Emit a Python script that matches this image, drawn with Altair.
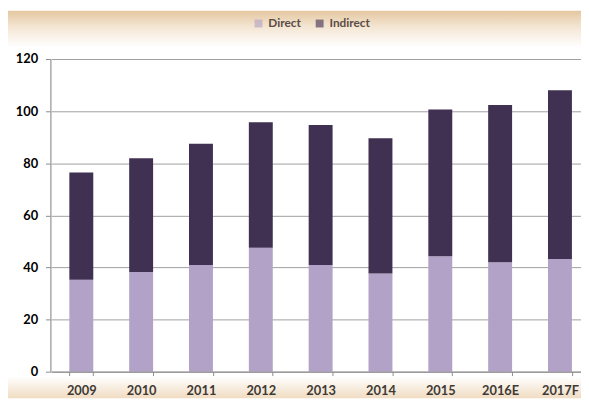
import altair as alt
import pandas as pd

years = ["2009", "2010", "2011", "2012", "2013", "2014", "2015", "2016E", "2017F"]
direct = [35.3, 38.3, 40.9, 47.6, 40.9, 37.7, 44.3, 42.0, 43.2]
indirect = [41.1, 43.6, 46.6, 48.1, 53.8, 51.9, 56.3, 60.4, 64.8]
series = ["Direct", "Indirect"]
colors = ["#b3a2c7", "#403152"]
y_ticks = [0, 20, 40, 60, 80, 100, 120]

rows = []
for i, yr in enumerate(years):
    rows.append({"year": yr, "series": "Direct", "value": direct[i], "ord": 0})
    rows.append({"year": yr, "series": "Indirect", "value": indirect[i], "ord": 1})
df = pd.DataFrame(rows)

W, H = 538, 317
FONT = "Lato"

top_bg = alt.Chart(alt.Data(values=[{}])).mark_rect(
    color=alt.Gradient(
        gradient="linear", x1=0, x2=0, y1=0, y2=1,
        stops=[alt.GradientStop(offset=0, color="#e4c7a0"),
               alt.GradientStop(offset=0.45, color="#f4e6d4"),
               alt.GradientStop(offset=1, color="#ffffff")],
    )
).encode(x=alt.value(-43), x2=alt.value(W), y=alt.value(-49), y2=alt.value(-12))

bot_bg = alt.Chart(alt.Data(values=[{}])).mark_rect(
    color=alt.Gradient(
        gradient="linear", x1=0, x2=0, y1=0, y2=1,
        stops=[alt.GradientStop(offset=0, color="#ffffff"),
               alt.GradientStop(offset=1, color="#f0dcc2")],
    )
).encode(x=alt.value(-43), x2=alt.value(W), y=alt.value(322), y2=alt.value(344))

bars = alt.Chart(df).mark_bar().encode(
    x=alt.X("year:N", sort=years, title=None,
            scale=alt.Scale(range=[1, 547], paddingInner=0.6, paddingOuter=0.3),
            axis=alt.Axis(labelAngle=0, tickBand="extent", tickSize=4, tickColor="#8c8c8c",
                          domainColor="#8c8c8c", labelFont=FONT, labelFontSize=13,
                          labelFontWeight="bold", labelColor="#403a35", labelPadding=9,
                          zindex=1)),
    y=alt.Y("value:Q", stack="zero", title=None,
            scale=alt.Scale(domain=[0, 120], nice=False),
            axis=alt.Axis(values=y_ticks, tickSize=5, tickColor="#8c8c8c", domainColor="#8c8c8c",
                          gridColor="#a0a0a0", grid=True, labelFont=FONT, labelFontSize=13,
                          labelFontWeight="bold", labelColor="#000000", labelPadding=8)),
    color=alt.Color("series:N", scale=alt.Scale(domain=series, range=colors),
                    legend=alt.Legend(orient="none", legendX=205, legendY=-42, direction="horizontal",
                                      title=None, symbolType="square", symbolSize=64,
                                      symbolOpacity=0.62, symbolStrokeWidth=0,
                                      labelFont=FONT, labelFontSize=12, labelFontWeight="bold",
                                      labelColor="#5a4c46", labelOffset=4, columnPadding=12,
                                      padding=0)),
    order=alt.Order("ord:Q"),
)

chart = alt.layer(top_bg, bot_bg, bars).properties(
    width=W, height=H,
    autosize=alt.AutoSizeParams(type="none"),
    padding={"left": 43, "top": 49, "right": 0, "bottom": 27},
).configure_view(stroke=None).configure(background="#ffffff")

chart.save("out.html", embed_options={"renderer": "svg", "actions": False})
